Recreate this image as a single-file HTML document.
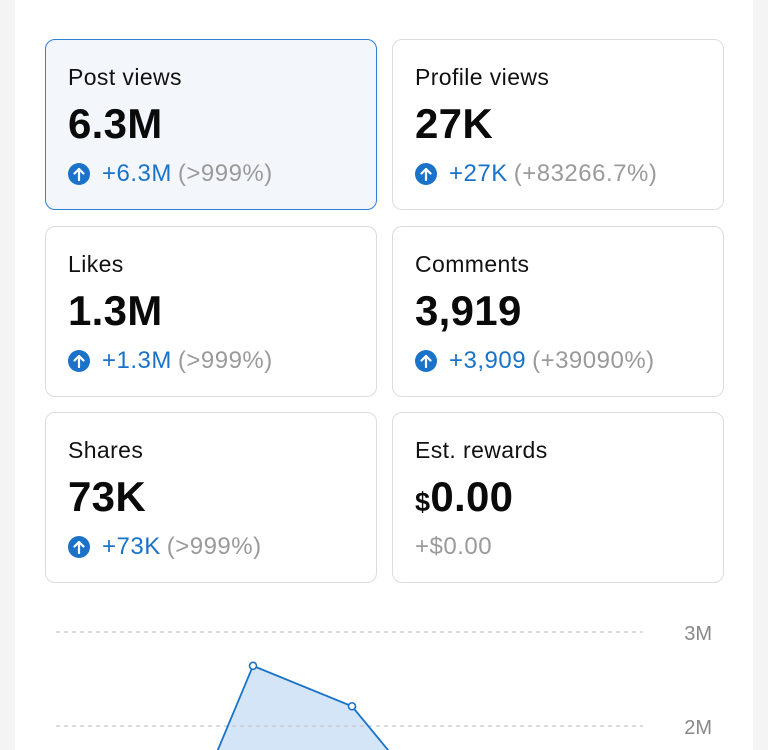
<!DOCTYPE html>
<html><head><meta charset="utf-8"><style>
html,body{margin:0;width:768px;height:750px;overflow:hidden;background:#f4f4f4;font-family:"Liberation Sans",Arial,sans-serif;}
.panel{position:absolute;left:15px;top:0;width:738px;height:750px;background:#fff;}
.card{position:absolute;width:332px;height:171px;border:1px solid #dcdcdc;border-radius:10px;box-sizing:border-box;background:#fff;}
.card.sel{background:#f3f7fc;border-color:#2e82d2;}
.t{position:absolute;left:22px;top:24px;font-size:23px;color:#111;letter-spacing:0.4px;}
.v{position:absolute;left:22px;top:60px;font-size:42px;font-weight:bold;color:#0a0a0a;letter-spacing:0.3px;}
.c{position:absolute;left:22px;top:120px;font-size:24px;color:#1a73c8;display:flex;align-items:center;white-space:nowrap;letter-spacing:0.5px;}
.c .ic{width:22px;height:22px;border-radius:50%;background:#1a73c8;color:#fff;display:inline-flex;align-items:center;justify-content:center;margin-right:12px;}
.c .p{color:#9a9a9a;margin-left:6px;}
</style></head><body>
<div class="panel"></div>
<div id="cards"></div>
<svg id="chart" style="position:absolute;left:0;top:0;overflow:hidden" width="768" height="750"></svg>
<script>
const cardTitles=["Post views","Profile views","Likes","Comments","Shares","Est. rewards"];
const cardValues=["6.3M","27K","1.3M","3,919","73K","$0.00"];
const cardChanges=["+6.3M","+27K","+1.3M","+3,909","+73K","+$0.00"];
const cardPcts=["(>999%)","(+83266.7%)","(>999%)","(+39090%)","(>999%)",""];
const cardNames=["post-views-card","profile-views-card","likes-card","comments-card","shares-card","est-rewards-card"];
const wrap=document.getElementById('cards');
cardTitles.forEach((t,i)=>{
  const d=document.createElement('div');
  d.className='card'+(i===0?' sel':'');
  d.style.left=(i%2?392:45)+'px';
  d.style.top=(39+Math.floor(i/2)*186.5)+'px';
  
  
  let val=cardValues[i];
  if(val.startsWith('$')) val='<span style="font-size:27px">$</span>'+val.slice(1);
  let ch;
  if(i===5) ch='<div class="c" style="color:#9a9a9a">'+cardChanges[i]+'</div>';
  else ch='<div class="c"><span class="ic"><svg width="12" height="14" viewBox="0 0 12 14"><path d="M6 13V2M1.5 6.5L6 2l4.5 4.5" stroke="#fff" stroke-width="2.2" fill="none" stroke-linecap="round" stroke-linejoin="round"/></svg></span>'+cardChanges[i]+'<span class="p">'+cardPcts[i]+'</span></div>';
  d.innerHTML='<div class="t">'+t+'</div><div class="v">'+val+'</div>'+ch;
  wrap.appendChild(d);
});
const yTicks=[2,3];
const yTickLabels=["2M","3M"];
const pointValues=[0.05,0.12,2.64,2.21,0.93,0.5,0.3];
const NS='http://www.w3.org/2000/svg';
const svg=document.getElementById('chart');
const yS=v=>726-(v-2)*94;
const xS=i=>55+i*99;
yTicks.forEach((t,i)=>{
  const l=document.createElementNS(NS,'line');
  l.setAttribute('x1',56);l.setAttribute('x2',643);l.setAttribute('y1',yS(t));l.setAttribute('y2',yS(t));
  l.setAttribute('stroke','#c8c8c8');l.setAttribute('stroke-dasharray','4 4');l.setAttribute('stroke-width','1.3');
  
  
  svg.appendChild(l);
  const tx=document.createElementNS(NS,'text');
  tx.setAttribute('x',712);tx.setAttribute('y',yS(t)+8);tx.setAttribute('text-anchor','end');
  tx.setAttribute('font-size','20');tx.setAttribute('fill','#888');tx.setAttribute('font-family','Liberation Sans, sans-serif');
  tx.textContent=yTickLabels[i];
  
  
  svg.appendChild(tx);
});
const pts=pointValues.map((v,i)=>[xS(i),yS(v)]);
const area=document.createElementNS(NS,'path');
area.setAttribute('d','M'+pts[0][0]+',1000 L'+pts.map(p=>p.join(',')).join(' L')+' L'+pts[pts.length-1][0]+',1000 Z');
area.setAttribute('fill','#d3e5f7');


svg.insertBefore(area,svg.firstChild);
const line=document.createElementNS(NS,'polyline');
line.setAttribute('points',pts.map(p=>p.join(',')).join(' '));
line.setAttribute('fill','none');line.setAttribute('stroke','#1a73c8');line.setAttribute('stroke-width','1.8');


svg.appendChild(line);
pts.forEach(p=>{
  const c=document.createElementNS(NS,'circle');
  c.setAttribute('cx',p[0]);c.setAttribute('cy',p[1]);c.setAttribute('r',3.5);
  c.setAttribute('fill','#fff');c.setAttribute('stroke','#1a73c8');c.setAttribute('stroke-width','1.6');
  
  
  svg.appendChild(c);
});
</script>
</body></html>
